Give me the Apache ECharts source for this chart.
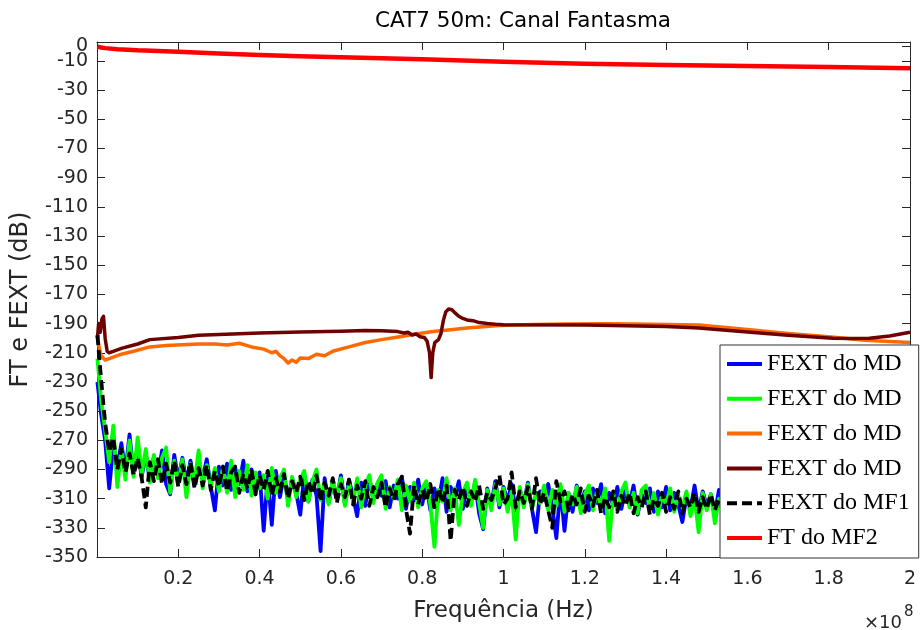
<!DOCTYPE html>
<html>
<head>
<meta charset="utf-8">
<script src="https://cdn.jsdelivr.net/npm/echarts@6/dist/echarts.min.js"></script>
<style>html,body{margin:0;padding:0;background:#fff}#c{width:922px;height:630px}</style>
</head>
<body>
<div id="c"></div>
<script>
// ---- data ----
const chartTitle = 'CAT7 50m: Canal Fantasma';
const xName = 'Frequência (Hz)';
const yName = 'FT e FEXT (dB)';
const legendLabels = ['FEXT do MD', 'FEXT do MD', 'FEXT do MD', 'FEXT do MD', 'FEXT do MF1', 'FT do MF2'];
const yTickValues = [-350, -330, -310, -290, -270, -250, -230, -210, -190, -170, -150, -130, -110, -90, -70, -50, -30, -10, 0];
const yLabelValues = [-350, -330, -310, -290, -270, -250, -230, -210, -190, -170, -150, -130, -110, -90, -70, -50, -30, -10];
const yTopLabelValues = [0];
const xTickLabelScale = 1e8;

// noise series sampled at 0.1 MHz, then every 1 MHz from 1 to 160 MHz
const noiseFreqMHz = [0.1].concat(Array.from({length: 160}, (_, i) => i + 1));
const fextBlue = [-230,
 -252,-270,-303,-274,-288,-272,-292,-266,-293,-278,
 -295,-279,-298,-281,-294,-277,-300,-307,-280,-297,
 -282,-299,-284,-301,-285,-296,-283,-302,-318,-288,
 -301,-286,-304,-289,-300,-284,-305,-290,-307,-292,
 -332,-295,-328,-291,-309,-294,-311,-296,-306,-321,
 -293,-312,-297,-308,-346,-296,-313,-298,-310,-294,
 -314,-297,-309,-322,-299,-315,-296,-311,-300,-308,
 -298,-316,-301,-310,-295,-317,-302,-311,-297,-314,
 -300,-318,-303,-312,-296,-319,-302,-310,-298,-317,
 -301,-313,-299,-320,-331,-303,-314,-298,-316,-302,
 -312,-300,-318,-304,-313,-299,-317,-333,-305,-311,
 -300,-316,-337,-302,-332,-306,-319,-301,-314,-305,
 -318,-303,-313,-300,-320,-306,-315,-302,-317,-304,
 -314,-301,-321,-307,-313,-303,-319,-305,-316,-302,
 -318,-306,-314,-326,-309,-317,-301,-319,-305,-315,
 -307,-320,-304,-316,-308,-318,-303,-315,-309,-317];
const fextGreen = [-214,
 -242,-263,-285,-260,-302,-276,-297,-270,-295,-268,
 -293,-276,-299,-280,-296,-282,-275,-306,-284,-300,
 -283,-309,-286,-298,-277,-303,-287,-301,-289,-305,
 -288,-306,-284,-309,-291,-304,-287,-308,-292,-303,
 -294,-310,-289,-306,-296,-290,-315,-295,-309,-297,
 -291,-312,-298,-290,-311,-299,-314,-297,-309,-296,
 -315,-300,-312,-296,-316,-301,-294,-313,-299,-294,
 -317,-302,-310,-297,-318,-301,-312,-299,-316,-303,
 -298,-314,-343,-304,-312,-296,-318,-303,-328,-306,
 -299,-315,-297,-313,-330,-304,-318,-300,-314,-303,
 -319,-305,-338,-302,-316,-300,-317,-306,-313,-301,
 -318,-304,-315,-300,-319,-306,-314,-302,-320,-307,
 -301,-318,-305,-315,-303,-339,-307,-318,-305,-299,
 -316,-306,-320,-304,-301,-318,-306,-321,-308,-314,
 -303,-319,-308,-316,-305,-322,-309,-333,-306,-318,
 -307,-327,-310,-319,-305,-316,-309,-321,-306,-315];
const fextBlackMF1 = [-198,
 -228,-258,-278,-268,-290,-276,-292,-279,-294,-282,
 -296,-316,-285,-298,-283,-300,-286,-299,-284,-302,
 -287,-300,-285,-303,-289,-301,-287,-304,-291,-302,
 -288,-305,-292,-288,-306,-293,-303,-290,-307,-294,
 -304,-291,-308,-296,-305,-293,-310,-298,-306,-295,
 -311,-298,-307,-294,-312,-299,-308,-296,-313,-300,
 -309,-297,-314,-301,-310,-298,-315,-302,-309,-299,
 -316,-303,-311,-300,-295,-317,-334,-301,-314,-304,
 -312,-300,-316,-303,-313,-301,-339,-304,-311,-302,
 -315,-305,-312,-301,-317,-306,-311,-303,-294,-314,
 -310,-292,-316,-305,-313,-302,-317,-296,-314,-306,
 -318,-330,-298,-312,-305,-318,-307,-314,-303,-319,
 -308,-315,-304,-320,-309,-316,-305,-319,-308,-315,
 -306,-320,-309,-316,-305,-321,-310,-315,-306,-319,
 -309,-317,-305,-320,-310,-316,-306,-319,-309,-317,
 -307,-318,-310,-316,-308,-319,-309,-315,-310,-317];

const orangeFreqMHz = [0.1, 0.5, 1, 2, 4, 6, 9, 13, 17, 21, 25, 29, 32, 35, 38, 41, 43, 44, 45, 46, 47, 48, 49, 50, 52, 54, 56, 58, 62, 66, 70, 74.5, 78, 82.7, 87, 91, 95, 99, 105, 115, 125, 132, 140, 148, 154, 160, 170, 180, 189, 195, 200];
const fextOrange  = [-198, -206, -212, -215, -213, -211, -209, -206, -205, -204.5, -204, -204, -204.7, -203.5, -206, -207.5, -210, -209, -212, -214, -217, -215, -216.5, -213.6, -214, -211, -212, -209, -206, -203, -201, -199, -197.3, -195.5, -194.2, -193, -192.2, -191.4, -190.8, -190.3, -190.2, -190.3, -190.6, -191, -192.5, -194, -196.8, -199, -201.5, -202.3, -203];

const darkFreqMHz = [0.1, 0.4, 0.8, 1.2, 1.6, 2, 2.5, 3, 4, 6, 10, 13, 20, 25, 30, 40, 50, 60, 66, 70, 74, 75.5, 76.5, 77.5, 78.5, 79.5, 80.5, 81.2, 81.8, 82.2, 82.6, 83.1, 84, 84.6, 85.2, 85.8, 86.5, 87.3, 88, 89, 90, 91, 92.5, 94, 96, 98, 100, 120, 140, 148, 160, 170, 181, 186, 190, 195, 200];
const fextDarkRed = [-200, -190, -196, -187, -185, -200, -209, -210, -209, -207, -204, -201, -199.5, -198, -197.5, -196.5, -195.8, -195.3, -194.8, -195, -195.5, -196.5, -196, -197.8, -197.2, -199, -199.5, -202, -210, -227, -210, -203, -201, -197, -188, -182, -180, -180.5, -182.5, -185, -186.5, -187.5, -188, -189.3, -190, -190.5, -190.8, -191, -192, -193, -195.7, -198, -200, -200.3, -200, -198.5, -196];

const ftFreqMHz = [0.1, 1, 2, 5, 10, 20, 30, 40, 50, 60, 80, 100, 120, 140, 160, 180, 200];
const ftRed     = [-0.2, -0.8, -1.2, -1.9, -2.7, -3.6, -4.8, -5.9, -6.7, -7.5, -8.8, -10.6, -11.9, -12.7, -13.4, -14.1, -15];

// ---- build ----
const pairs = (fs, vs) => fs.map((f, i) => [f * 1e6, vs[i]]);
const seriesNames = ['MD_a', 'MD_b', 'MD_c', 'MD_d', 'MF1', 'MF2'];
const nameToLabel = {};
seriesNames.forEach((n, i) => nameToLabel[n] = legendLabels[i]);

const axisCol = '#262626';
const sansFont = '"DejaVu Sans", Verdana, sans-serif';

function mkLine(idx, data, color, width, dash) {
  return {
    type: 'line', name: seriesNames[idx], data: data, showSymbol: false, symbol: 'none',
    animation: false, silent: true, z: 2 + idx * 0.01,
    lineStyle: {color: color, width: width, type: dash || 'solid', cap: 'butt', join: 'round'},
    itemStyle: {color: color}
  };
}

const yBase = {type: 'value', min: -350, max: 3, splitLine: {show: false}};

const chart = echarts.init(document.getElementById('c'), null, {renderer: 'canvas'});
chart.setOption({
  animation: false,
  backgroundColor: '#fff',
  title: {
    text: chartTitle, left: 518, top: 5, textAlign: 'center',
    textStyle: {fontFamily: sansFont, fontSize: 21.5, fontWeight: 'normal', color: '#000'}
  },
  grid: {left: 97, right: 12, top: 42, bottom: 73, containLabel: false},
  legend: {
    orient: 'vertical', left: 720, top: 345,
    data: seriesNames, itemWidth: 35, itemHeight: 14, itemGap: 10.8,
    padding: [7, 9, 8, 5],
    backgroundColor: '#fff', borderColor: '#333', borderWidth: 1,
    itemStyle: {opacity: 0, borderWidth: 0},
    lineStyle: {width: 4},
    formatter: n => nameToLabel[n],
    textStyle: {fontFamily: '"Liberation Serif", "Times New Roman", serif', fontSize: 24, color: '#000'},
    selectedMode: false
  },
  xAxis: [{
    type: 'value', position: 'bottom', min: 0, max: 2e8, interval: 2e7,
    name: xName, nameLocation: 'middle', nameGap: 43,
    nameTextStyle: {fontFamily: sansFont, fontSize: 23, color: axisCol},
    axisLine: {show: true, onZero: false, lineStyle: {color: axisCol, width: 1}},
    axisTick: {show: true, inside: true, length: 8, lineStyle: {color: axisCol}},
    axisLabel: {fontFamily: sansFont, fontSize: 19, color: axisCol, margin: 13,
      formatter: v => v === 0 ? '' : String(+(v / xTickLabelScale).toFixed(1))},
    splitLine: {show: false}
  }, {
    type: 'value', position: 'top', min: 0, max: 2e8, interval: 2e7,
    axisLine: {show: true, onZero: false, lineStyle: {color: axisCol, width: 1}},
    axisTick: {show: true, inside: true, length: 8, lineStyle: {color: axisCol}},
    axisLabel: {show: false}, splitLine: {show: false}
  }],
  yAxis: [Object.assign({}, yBase, {
    position: 'left',
    name: yName, nameLocation: 'middle', nameGap: 64, nameRotate: 90,
    nameTextStyle: {fontFamily: sansFont, fontSize: 24, color: axisCol},
    axisLine: {show: true, onZero: false, lineStyle: {color: axisCol, width: 1}},
    axisTick: {show: true, inside: true, length: 8, customValues: yTickValues, lineStyle: {color: axisCol}},
    axisLabel: {fontFamily: sansFont, fontSize: 19, color: axisCol, margin: 9, customValues: yLabelValues,
      showMaxLabel: true, showMinLabel: true, hideOverlap: false}
  }), Object.assign({}, yBase, {
    position: 'right',
    axisLine: {show: true, onZero: false, lineStyle: {color: axisCol, width: 1}},
    axisTick: {show: true, inside: true, length: 8, customValues: yTickValues, lineStyle: {color: axisCol}},
    axisLabel: {show: false}
  }), Object.assign({}, yBase, {
    position: 'left', offset: 0,
    axisLine: {show: false}, axisTick: {show: false},
    axisLabel: {fontFamily: sansFont, fontSize: 19, color: axisCol, margin: 9, customValues: yTopLabelValues,
      showMaxLabel: true, hideOverlap: false}
  })],
  graphic: [
    {type: 'text', left: 864, top: 614, style: {text: '×10', fontFamily: sansFont, fontSize: 18, fill: axisCol}},
    {type: 'text', left: 904, top: 605, style: {text: '8', fontFamily: sansFont, fontSize: 15, fill: axisCol}}
  ],
  series: [
    mkLine(0, pairs(noiseFreqMHz, fextBlue), '#0000ff', 3.8),
    mkLine(1, pairs(noiseFreqMHz, fextGreen), '#00ff00', 3.8),
    mkLine(2, pairs(orangeFreqMHz, fextOrange), '#ff6a00', 3.5),
    mkLine(3, pairs(darkFreqMHz, fextDarkRed), '#6e0000', 3.5),
    mkLine(4, pairs(noiseFreqMHz, fextBlackMF1), '#000000', 3.8, [10, 5]),
    mkLine(5, pairs(ftFreqMHz, ftRed), '#ff0000', 4.5)
  ]
});
</script>
</body>
</html>
